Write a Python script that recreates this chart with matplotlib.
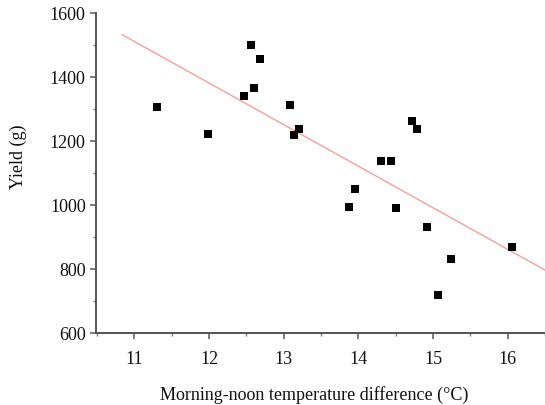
import matplotlib
matplotlib.use("Agg")
import matplotlib.pyplot as plt
import numpy as np
from matplotlib.ticker import MultipleLocator

# Data
temp_diff = [11.31, 11.98, 12.47, 12.56, 12.60, 12.68, 13.09, 13.14, 13.20,
             13.88, 13.96, 14.30, 14.44, 14.50, 14.72, 14.78, 14.92, 15.07,
             15.24, 16.06]
yield_g = [1307, 1222, 1342, 1500, 1367, 1457, 1313, 1220, 1237,
           993, 1051, 1136, 1138, 990, 1263, 1237, 931, 720,
           830, 868]

# Fitted regression line
fit_slope = -129.9
fit_intercept = 2940.0
fit_x_range = [10.83, 16.51]

x_ticks = [11, 12, 13, 14, 15, 16]
y_ticks = [600, 800, 1000, 1200, 1400, 1600]

plt.rcParams['font.family'] = ['Liberation Serif', 'DejaVu Serif']

fig = plt.figure(figsize=(5.45, 4.06), dpi=100)
W, H = 545, 406
ax_left, ax_right, ax_top, ax_bottom = 95.5, 545, 14, 334
ax = fig.add_axes([ax_left / W, 1 - ax_bottom / H,
                   (ax_right - ax_left) / W, (ax_bottom - ax_top) / H])

lx = np.array(fit_x_range)
ax.plot(lx, fit_intercept + fit_slope * lx, color='#f7a096', lw=1.0,
        solid_capstyle='butt', zorder=2)
ax.plot(temp_diff, yield_g, linestyle='none', marker='s', ms=5.2, mew=0,
        color='black', zorder=3)

ax.set_xlim(10.48, 16.5)
ax.set_ylim(600, 1600)
ax.set_xticks(x_ticks)
ax.set_yticks(y_ticks)
ax.xaxis.set_minor_locator(MultipleLocator(0.5))
ax.yaxis.set_minor_locator(MultipleLocator(100))

for s in ['top', 'right']:
    ax.spines[s].set_visible(False)
for s in ['left', 'bottom']:
    ax.spines[s].set_color('#555555')
    ax.spines[s].set_linewidth(1.4)

ax.tick_params(axis='both', which='major', length=4, width=1.2,
               color='#666666', labelsize=13, labelcolor='#111111')
ax.tick_params(axis='both', which='minor', length=2, width=1.0,
               color='#777777')
ax.tick_params(axis='x', which='major', pad=8)
ax.tick_params(axis='y', which='major', pad=3)

fig.text(314 / W, 1 - 395 / H, 'Morning-noon temperature difference (°C)',
         ha='center', va='center', fontsize=13, color='#111111')
fig.text(18 / W, 1 - 157 / H, 'Yield (g)', ha='center', va='center',
         rotation=90, fontsize=13, color='#111111')

fig.savefig('out.png', dpi=100)
